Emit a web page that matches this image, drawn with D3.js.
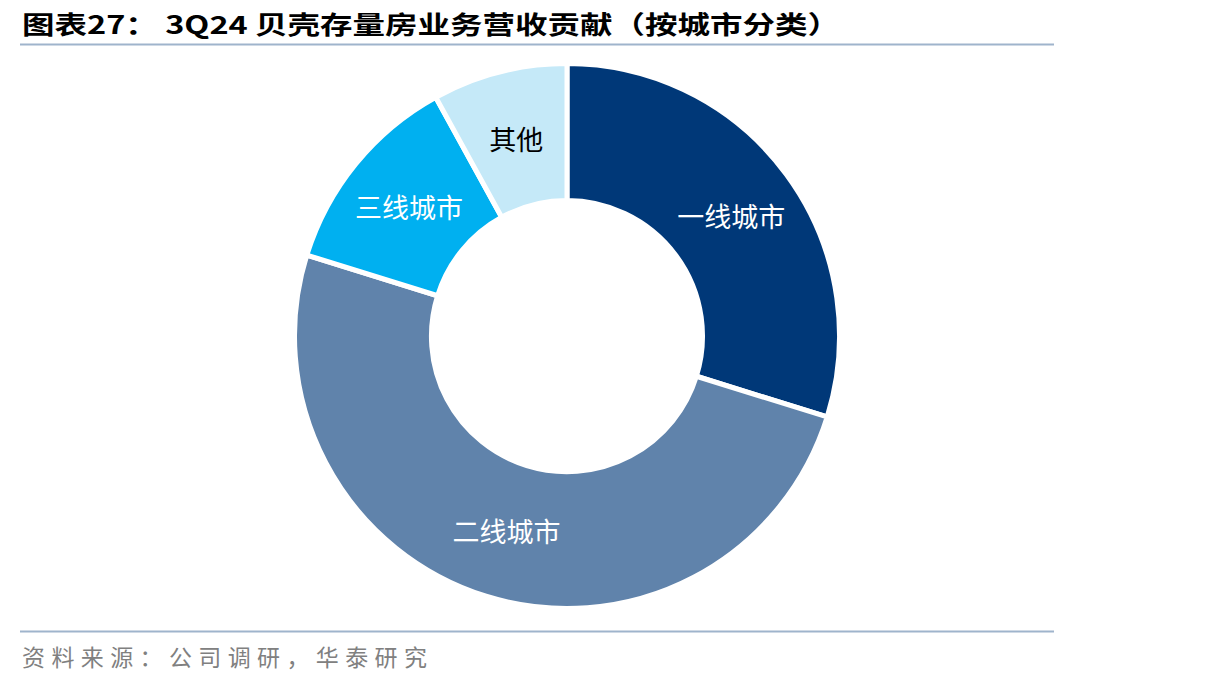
<!DOCTYPE html>
<html><head><meta charset="utf-8">
<script src="https://cdn.jsdelivr.net/npm/d3@7"></script>
<style>body{margin:0;background:#fff;}svg{display:block;}</style>
</head><body>
<svg id="c" width="1206" height="686"></svg>
<script>
const categories = ["一线城市", "二线城市", "三线城市", "其他"];
const values = [29.8, 50.0, 12.2, 8.0];
const colors = ["#003878", "#6083AB", "#00B0F0", "#C5E9F8"];
const labelColors = ["#ffffff", "#ffffff", "#ffffff", "#000000"];
const titleText = "图表27：  3Q24 贝壳存量房业务营收贡献（按城市分类）";
const sourceText = "资料来源：公司调研，华泰研究";

const svg = d3.select("#c");
const cx = 567, cy = 336, rOuter = 272.5, rInner = 135.5;

// title
svg.append("text").attr("x", 22).attr("y", 34)
  .attr("font-family", "'Noto Sans CJK SC', sans-serif").attr("font-weight", "bold")
  .attr("font-size", 25).attr("fill", "#000").attr("textLength", 818).attr("lengthAdjust", "spacingAndGlyphs")
  .text(titleText);
svg.append("line").attr("x1", 20).attr("x2", 1054).attr("y1", 44.5).attr("y2", 44.5)
  .attr("stroke", "#9FB4CC").attr("stroke-width", 2);
svg.append("line").attr("x1", 20).attr("x2", 1054).attr("y1", 631.5).attr("y2", 631.5)
  .attr("stroke", "#9FB4CC").attr("stroke-width", 2);
svg.append("text").attr("x", 22).attr("y", 666)
  .attr("font-family", "'Noto Sans CJK SC', sans-serif")
  .attr("font-size", 23).attr("fill", "#808080").attr("textLength", 405).attr("lengthAdjust", "spacing")
  .text(sourceText);

const data = categories.map((c, i) => ({ cat: c, value: values[i], color: colors[i], lc: labelColors[i] }));
const pie = d3.pie().value(d => d.value).sort(null);
const arc = d3.arc().innerRadius(rInner).outerRadius(rOuter);
const g = svg.append("g").attr("transform", `translate(${cx},${cy})`);
const arcs = pie(data);
g.selectAll("path").data(arcs).join("path")
  .attr("d", arc).attr("fill", d => d.data.color)
  .attr("stroke", "#fff").attr("stroke-width", 5).attr("stroke-linejoin", "miter");
g.selectAll("text").data(arcs).join("text")
  .attr("transform", d => `translate(${arc.centroid(d)})`)
  .attr("text-anchor", "middle").attr("dominant-baseline", "central")
  .attr("font-family", "'Noto Sans CJK SC', sans-serif").attr("font-size", 27)
  .attr("fill", d => d.data.lc)
  .text(d => d.data.cat);
</script>
</body></html>
